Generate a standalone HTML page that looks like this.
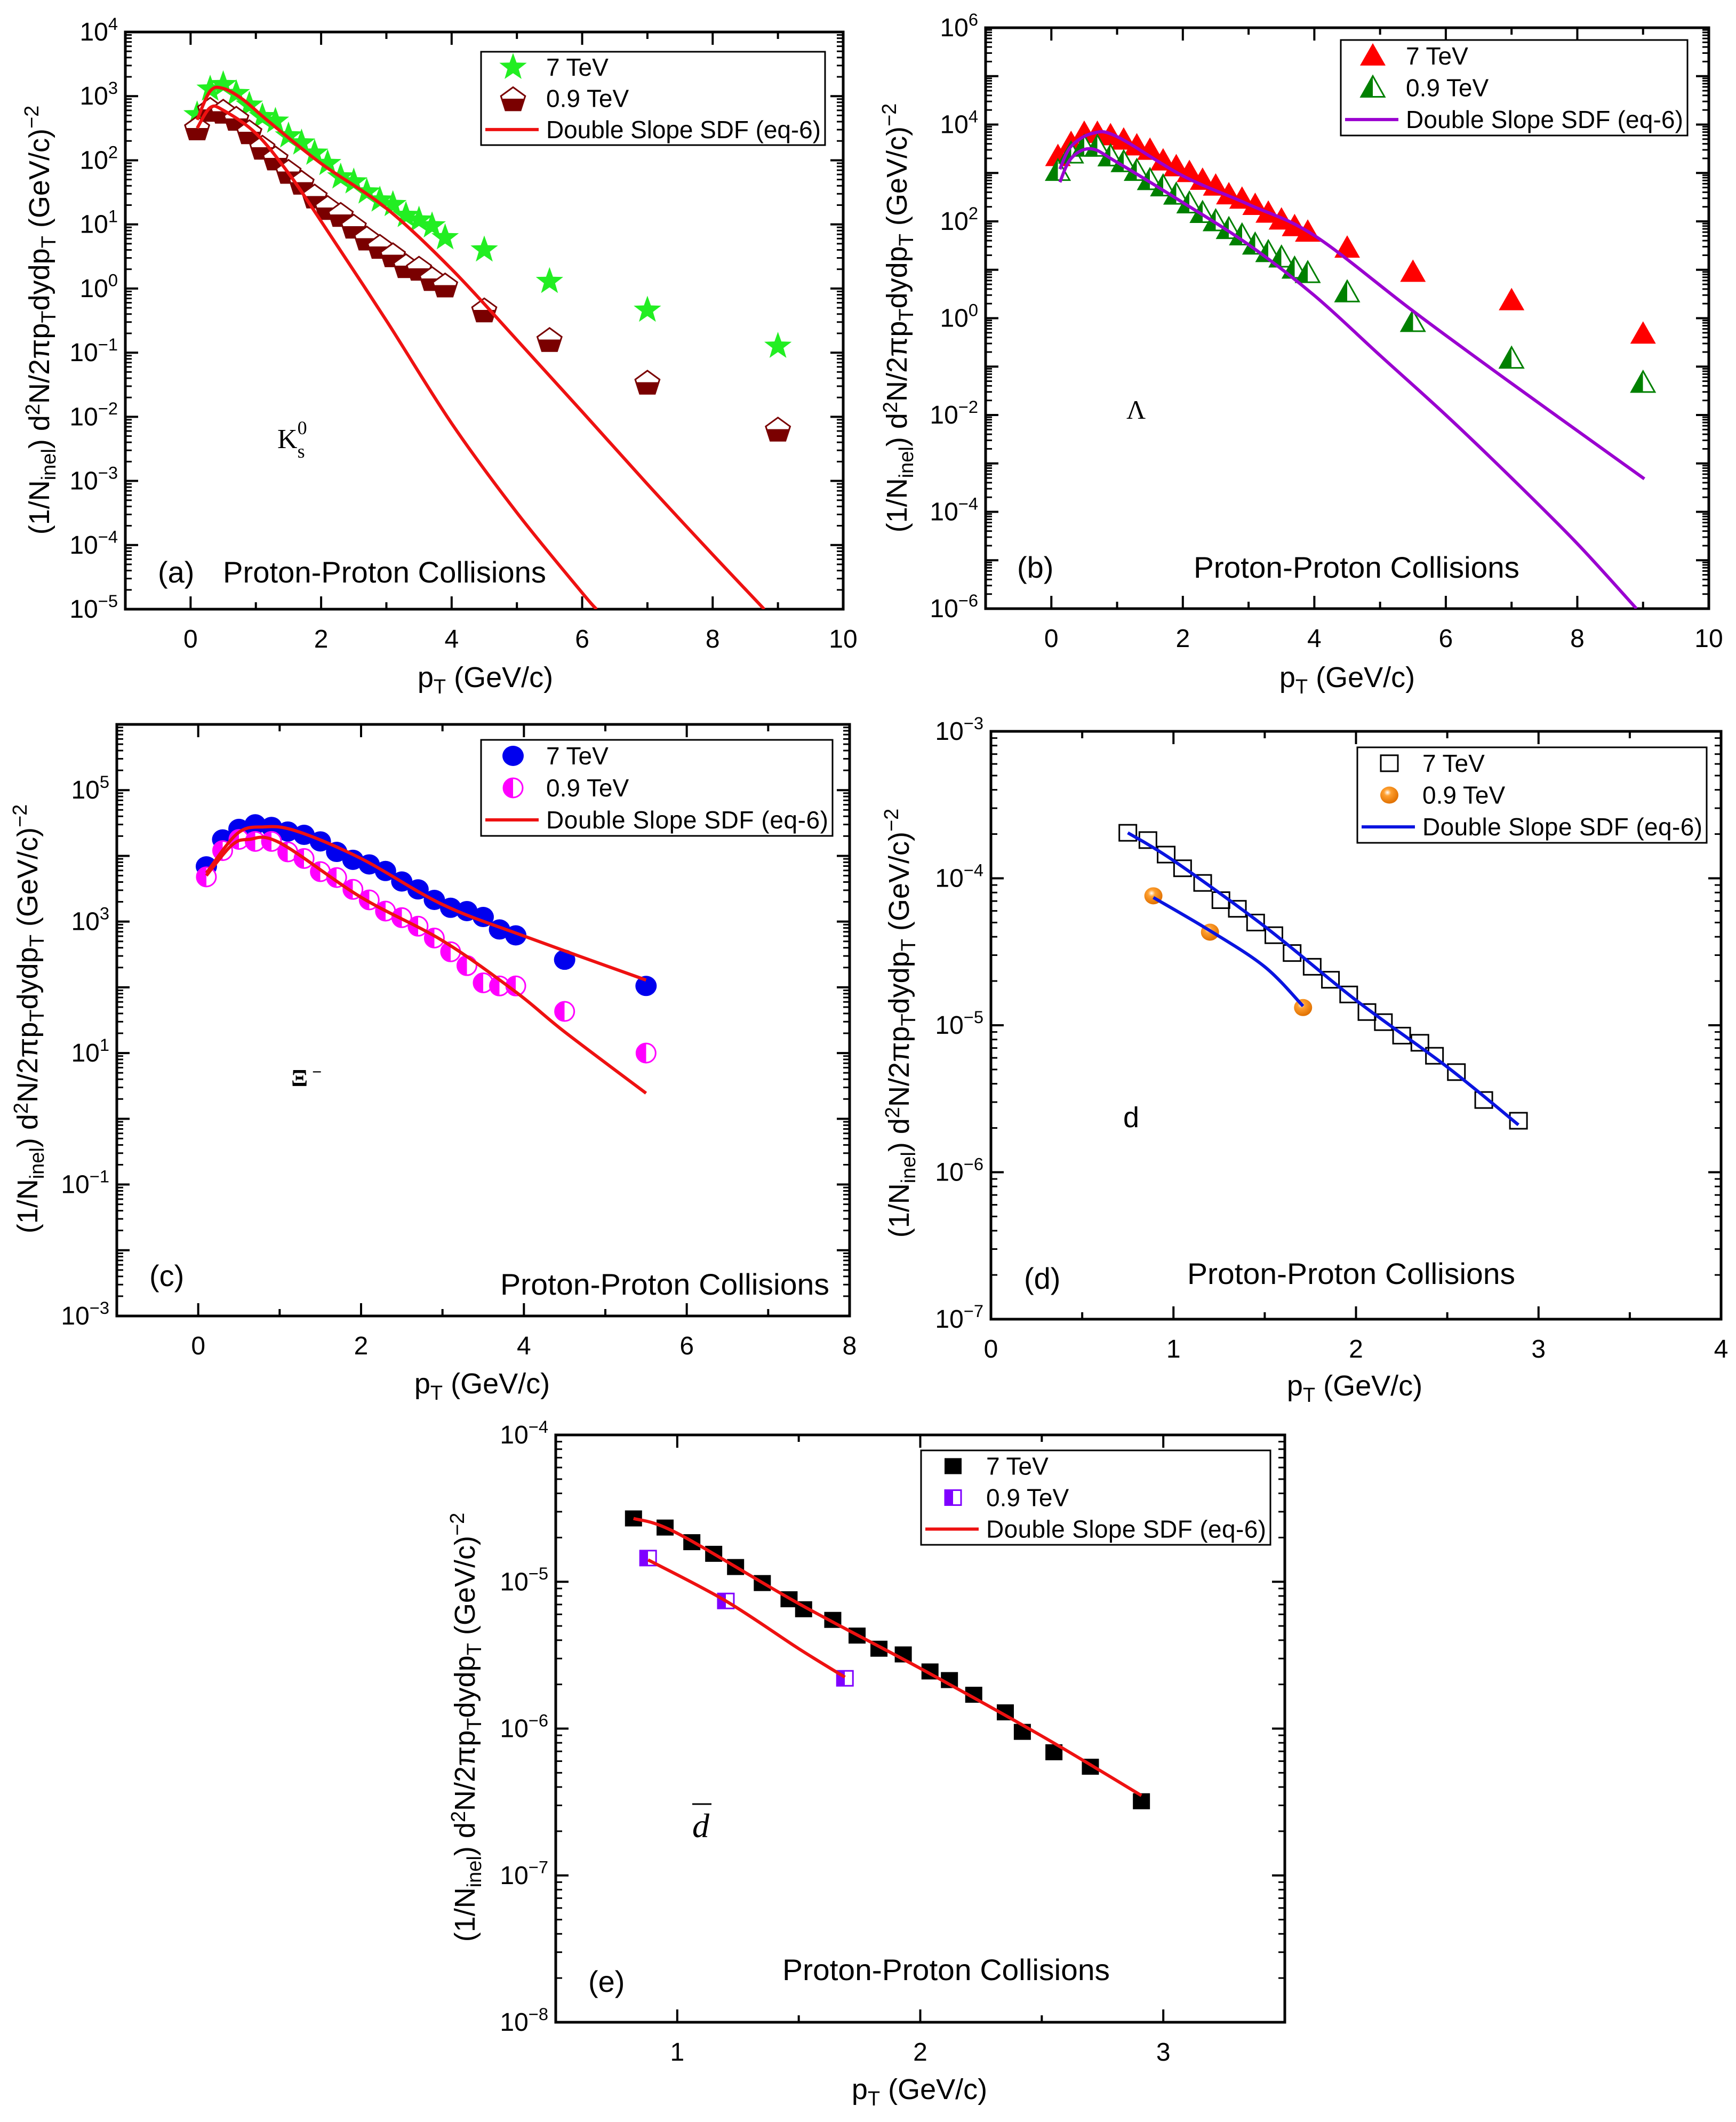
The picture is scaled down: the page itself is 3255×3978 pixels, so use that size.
<!DOCTYPE html>
<html><head><meta charset="utf-8"><title>pT spectra panels</title>
<style>
html,body{margin:0;padding:0;background:#fff;}
svg text{font-family:"Liberation Sans",sans-serif;fill:#000;}
</style></head>
<body>
<svg id="chart" xmlns="http://www.w3.org/2000/svg" width="3255" height="3973" viewBox="0 0 3255 3973">
<defs>
<linearGradient id="gPent" x1="0" y1="0" x2="0" y2="1"><stop offset="0.5" stop-color="#fff"/><stop offset="0.5" stop-color="#7a0000"/></linearGradient>
<linearGradient id="gTri" x1="0" y1="0" x2="1" y2="0"><stop offset="0.5" stop-color="#008000"/><stop offset="0.5" stop-color="#fff"/></linearGradient>
<linearGradient id="gCirc" x1="0" y1="0" x2="1" y2="0"><stop offset="0.5" stop-color="#ff00ff"/><stop offset="0.5" stop-color="#fff"/></linearGradient>
<linearGradient id="gSq" x1="0" y1="0" x2="1" y2="0"><stop offset="0.5" stop-color="#7f00ff"/><stop offset="0.5" stop-color="#fff"/></linearGradient>
<radialGradient id="gOrb" cx="0.4" cy="0.35" r="0.65"><stop offset="0" stop-color="#fff"/><stop offset="0.3" stop-color="#ffa030"/><stop offset="1" stop-color="#e07000"/></radialGradient>
</defs>
<rect x="0" y="0" width="3255" height="3973" fill="#fff"/>
</svg>
<script>
// ---------- Panel (a) K0s ----------
const aX7 = [0.1,0.3,0.5,0.7,0.9,1.1,1.3,1.5,1.7,1.9,2.1,2.3,2.5,2.7,2.9,3.1,3.3,3.5,3.7,3.9,4.5,5.5,7,9];
const aY7 = [513,1288,1514,1096,724,479,407,240,186,129,89,55,46,32,24,20.4,13.8,11.7,9.5,6.2,4.0,1.29,0.46,0.126];
const aX09 = aX7;
const aY09 = [324,631,589,457,282,162,110,68,46,28,18.6,14.5,9.5,6.2,4.6,3.4,2.3,2.1,1.45,1.15,0.47,0.162,0.035,0.0065];
const aFitX7 = [0.1,0.3,0.5,0.8,1.2,2,3,4,5,6,7,8,8.79];
const aFitY7 = [427,1200,1318,890,400,89,17.8,2.0,0.158,0.012,8.9e-4,7.1e-5,1e-5];
const aFitX09 = [0.1,0.3,0.5,1,1.5,2,3,4,5,6,6.22];
const aFitY09 = [316,661,603,263,63,11.2,0.316,0.0079,3.2e-4,1.8e-5,1e-5];
// ---------- Panel (b) Lambda ----------
const bX7 = [0.1,0.3,0.5,0.7,0.9,1.1,1.3,1.5,1.7,1.9,2.1,2.3,2.5,2.7,2.9,3.1,3.3,3.5,3.7,3.9,4.5,5.5,7,9];
const bY7 = [2188,4074,6607,6607,5888,4786,3631,2951,1778,1349,1023,708,537,355,288,214,148,107,78,60,28,8.9,2.3,0.47];
const bX09 = bX7;
const bY09 = [1096,2512,3467,3467,2188,1660,1096,708,525,355,234,148,100,69,51,33,23,17.8,10.5,8.5,3.4,0.83,0.145,0.046];
const bFitX7 = [0.13,0.3,0.63,1,2,3,4,5.5,7,9.02];
const bFitY7 = [1200,3548,6607,5623,871,224,51,1.41,0.045,4.8e-4];
const bFitX09 = [0.13,0.3,0.6,1,2,3,4,5,6,7,8,8.9];
const bFitY09 = [646,1995,3162,1660,245,33,2.95,0.17,0.01,5e-4,2.2e-5,1e-6];
// ---------- Panel (c) Xi- ----------
const cX7 = [0.1,0.3,0.5,0.7,0.9,1.1,1.3,1.5,1.7,1.9,2.1,2.3,2.5,2.7,2.9,3.1,3.3,3.5,3.7,3.9,4.5,5.5];
const cY7 = [6918,17783,25704,30200,27542,23442,20893,16596,11482,8710,7413,5888,4074,3090,2138,1622,1445,1175,759,617,263,105];
const cX09 = cX7;
const cY09 = [4786,12023,17783,16596,16596,11482,9120,5754,4677,3090,2138,1445,1148,851,562,347,214,117,105,105,43,10];
const cFitX7 = [0.1,0.48,0.8,1.2,2,3,4,5.5];
const cFitY7 = [5495,21878,27542,24000,9120,1820,603,129];
const cFitX09 = [0.1,0.41,0.62,1,2,3,3.9,4.5,5.5];
const cFitY09 = [5012,14454,17783,15849,2344,513,85,21,2.45];
// ---------- Panel (d) deuteron ----------
const dX7 = [0.75,0.86,0.96,1.05,1.16,1.26,1.35,1.45,1.55,1.65,1.76,1.86,1.96,2.06,2.15,2.25,2.35,2.43,2.55,2.70,2.89];
const dY7 = [2.04e-4,1.82e-4,1.45e-4,1.17e-4,9.3e-5,7.1e-5,6.2e-5,5.0e-5,4.1e-5,3.1e-5,2.5e-5,2.04e-5,1.62e-5,1.23e-5,1.05e-5,8.5e-6,7.6e-6,6.2e-6,4.8e-6,3.1e-6,2.24e-6];
const dX09 = [0.89,1.20,1.71];
const dY09 = [7.6e-5,4.3e-5,1.32e-5];
const dFitX7 = [0.75,1.0,1.5,2.0,2.5,2.89];
const dFitY7 = [2.04e-4,1.32e-4,4.7e-5,1.48e-5,5.2e-6,2.1e-6];
const dFitX09 = [0.89,1.2,1.5,1.71];
const dFitY09 = [7.4e-5,4.4e-5,2.5e-5,1.35e-5];
// ---------- Panel (e) anti-deuteron ----------
const eX7 = [0.82,0.95,1.06,1.15,1.24,1.35,1.46,1.52,1.64,1.74,1.83,1.93,2.04,2.12,2.22,2.35,2.42,2.55,2.70,2.91];
const eY7 = [2.7e-5,2.34e-5,1.86e-5,1.55e-5,1.26e-5,9.8e-6,7.6e-6,6.5e-6,5.5e-6,4.3e-6,3.5e-6,3.2e-6,2.45e-6,2.14e-6,1.7e-6,1.29e-6,9.5e-7,6.9e-7,5.5e-7,3.2e-7];
const eX09 = [0.88,1.20,1.69];
const eY09 = [1.45e-5,7.4e-6,2.2e-6];
const eFitX7 = [0.82,1.0,1.5,2.0,2.5,2.91];
const eFitY7 = [2.7e-5,2.14e-5,7.1e-6,2.57e-6,8.9e-7,3.5e-7];
const eFitX09 = [0.88,1.2,1.5,1.69];
const eFitY09 = [1.41e-5,7.4e-6,3.5e-6,2.24e-6];

// tick label arrays
const xTicksA = [0,2,4,6,8,10];
const yExpA = [-5,-4,-3,-2,-1,0,1,2,3,4];
const xTicksB = [0,2,4,6,8,10];
const yExpB = [-6,-4,-2,0,2,4,6];
const xTicksC = [0,2,4,6,8];
const yExpC = [-3,-1,1,3,5];
const xTicksD = [0,1,2,3,4];
const yExpD = [-7,-6,-5,-4,-3];
const xTicksE = [1,2,3];
const yExpE = [-8,-7,-6,-5,-4];

const NS = 'http://www.w3.org/2000/svg';
const svg = document.getElementById('chart');
function mk(tag, attrs, parent){
  const e = document.createElementNS(NS, tag);
  for (const k in attrs) e.setAttribute(k, attrs[k]);
  (parent||svg).appendChild(e);
  return e;
}
function makeAxes(p){
  p.X = v => p.x0 + (v - p.xmin)/(p.xmax - p.xmin)*(p.x1 - p.x0);
  p.Y = v => p.y1 - (Math.log10(v) - p.ymin)/(p.ymax - p.ymin)*(p.y1 - p.y0);
}
function supText(parent, x, y, anchor, size, base, exp){
  const t = mk('text', {x:x, y:y, 'text-anchor':anchor, 'font-size':size}, parent);
  t.appendChild(document.createTextNode(base));
  const s = mk('tspan', {dy:-size*0.42, 'font-size':size*0.68}, t);
  s.textContent = exp;
  return t;
}
function drawFrame(p, g){
  const fr = mk('rect', {x:p.x0, y:p.y0, width:p.x1-p.x0, height:p.y1-p.y0, fill:'none', stroke:'#000', 'stroke-width':5}, g);
  
  
  for (let v = p.xmin; v <= p.xmax + 1e-9; v += p.xMinor){
    const vv = Math.round(v*1000)/1000;
    const isMaj = Math.abs(vv/p.xMajor - Math.round(vv/p.xMajor)) < 1e-6;
    const L = isMaj ? 24 : 13;
    const x = p.X(vv);
    mk('line', {x1:x, y1:p.y1, x2:x, y2:p.y1-L, stroke:'#000', 'stroke-width':4}, g);
    mk('line', {x1:x, y1:p.y0, x2:x, y2:p.y0+L, stroke:'#000', 'stroke-width':4}, g);
  }
  p.xTicks.forEach(v => {
    const t = mk('text', {x:p.X(v), y:p.y1+72, 'text-anchor':'middle', 'font-size':48}, g);
    
    
    t.textContent = String(v);
  });
  for (let d = p.ymin; d <= p.ymax; d++){
    const y = p.Y(Math.pow(10,d));
    mk('line', {x1:p.x0, y1:y, x2:p.x0+24, y2:y, stroke:'#000', 'stroke-width':4}, g);
    mk('line', {x1:p.x1, y1:y, x2:p.x1-24, y2:y, stroke:'#000', 'stroke-width':4}, g);
    if (d < p.ymax){
      for (let k = 2; k <= 9; k++){
        const ym = p.Y(k*Math.pow(10,d));
        mk('line', {x1:p.x0, y1:ym, x2:p.x0+12, y2:ym, stroke:'#000', 'stroke-width':3}, g);
        mk('line', {x1:p.x1, y1:ym, x2:p.x1-12, y2:ym, stroke:'#000', 'stroke-width':3}, g);
      }
    }
  }
  p.yExp.forEach(d => {
    const t = supText(g, p.x0-14, p.Y(Math.pow(10,d))+16, 'end', 48, '10', String(d).replace('-', '\u2212'));
    
    
  });
  const xt = mk('text', {x:p.xtx, y:p.xty, 'text-anchor':'middle', 'font-size':54}, g);
  
  
  xt.appendChild(document.createTextNode('p'));
  const xs = mk('tspan', {dy:12, 'font-size':38}, xt); xs.textContent = 'T';
  const xr = mk('tspan', {dy:-12}, xt); xr.textContent = ' (GeV/c)';
  const yt = mk('text', {x:0, y:0, 'text-anchor':'middle', 'font-size':54, transform:'translate('+p.ytx+','+p.yty+') rotate(-90)'}, g);
  
  
  const parts = [['(1/N',0,54],['inel',12,38],[') d',-12,54],['2',-18,38],['N/2\u03C0p',18,54],['T',12,38],['dydp',-12,54],['T',12,38],[' (GeV/c)',-12,54],['\u22122',-20,38]];
  parts.forEach(pt => { const s = mk('tspan', {dy:pt[1], 'font-size':pt[2]}, yt); s.textContent = pt[0]; });
}
function catmull(pts){
  let d = 'M'+pts[0][0]+','+pts[0][1];
  for (let i = 0; i < pts.length-1; i++){
    const p0 = pts[Math.max(i-1,0)], p1 = pts[i], p2 = pts[i+1], p3 = pts[Math.min(i+2,pts.length-1)];
    const c1 = [p1[0]+(p2[0]-p0[0])/6, p1[1]+(p2[1]-p0[1])/6];
    const c2 = [p2[0]-(p3[0]-p1[0])/6, p2[1]-(p3[1]-p1[1])/6];
    d += ' C'+c1[0]+','+c1[1]+' '+c2[0]+','+c2[1]+' '+p2[0]+','+p2[1];
  }
  return d;
}
function drawFit(p, g, xs, ys, color, name){
  const pts = xs.map((x,i) => [p.X(x), p.Y(ys[i])]);
  const path = mk('path', {d:catmull(pts), fill:'none', stroke:color, 'stroke-width':6, 'stroke-linejoin':'round'}, g);
  
  
}
function marker(g, type, cx, cy){
  let e;
  if (type === 'star'){
    const pts = [];
    for (let i = 0; i < 10; i++){ const r = i%2 ? 11 : 27; const a = -Math.PI/2 + i*Math.PI/5; pts.push((cx+r*Math.cos(a)).toFixed(1)+','+(cy+r*Math.sin(a)).toFixed(1)); }
    e = mk('polygon', {points:pts.join(' '), fill:'#22ee22'}, g);
  } else if (type === 'pent'){
    const pts = [];
    for (let i = 0; i < 5; i++){ const a = -Math.PI/2 + i*2*Math.PI/5; pts.push((cx+24*Math.cos(a)).toFixed(1)+','+(cy+3+24*Math.sin(a)).toFixed(1)); }
    e = mk('polygon', {points:pts.join(' '), fill:'url(#gPent)', stroke:'#7a0000', 'stroke-width':3}, g);
  } else if (type === 'triR'){
    e = mk('polygon', {points:(cx)+','+(cy-24)+' '+(cx+24)+','+(cy+18)+' '+(cx-24)+','+(cy+18), fill:'#ff0000'}, g);
  } else if (type === 'triG'){
    e = mk('polygon', {points:(cx)+','+(cy-22)+' '+(cx+22)+','+(cy+17)+' '+(cx-22)+','+(cy+17), fill:'url(#gTri)', stroke:'#008000', 'stroke-width':3}, g);
  } else if (type === 'circB'){
    e = mk('ellipse', {cx:cx, cy:cy, rx:20, ry:19, fill:'#0000ee'}, g);
  } else if (type === 'circM'){
    e = mk('ellipse', {cx:cx, cy:cy, rx:18, ry:18, fill:'url(#gCirc)', stroke:'#ff00ff', 'stroke-width':3}, g);
  } else if (type === 'sqOpen'){
    e = mk('rect', {x:cx-16, y:cy-15, width:32, height:30, fill:'none', stroke:'#000', 'stroke-width':3}, g);
  } else if (type === 'orb'){
    e = mk('ellipse', {cx:cx, cy:cy, rx:17, ry:16, fill:'url(#gOrb)'}, g);
  } else if (type === 'sqBlk'){
    e = mk('rect', {x:cx-16, y:cy-15, width:32, height:30, fill:'#000'}, g);
  } else if (type === 'sqP'){
    e = mk('rect', {x:cx-15, y:cy-14, width:30, height:28, fill:'url(#gSq)', stroke:'#7f00ff', 'stroke-width':3}, g);
  }
  return e;
}
function drawPoints(p, g, xs, ys, type, name){
  xs.forEach((x,i) => {
    const m = marker(g, type, p.X(x), p.Y(ys[i]));
    
    
  });
}
function drawLegend(g, L, t7, t09, lineColor){
  const box = mk('rect', {x:L.x, y:L.y, width:L.w, height:L.h, fill:'#fff', stroke:'#000', 'stroke-width':3}, g);
  
  
  const rows = [L.y+L.h/6, L.y+L.h/2, L.y+5*L.h/6];
  const m1 = marker(g, t7, L.x+60, rows[0]);
  
  
  const m2 = marker(g, t09, L.x+60, rows[1]);
  
  
  const ln = mk('line', {x1:L.x+8, y1:rows[2], x2:L.x+108, y2:rows[2], stroke:lineColor, 'stroke-width':6}, g);
  
  
  const labels = ['7 TeV','0.9 TeV','Double Slope SDF (eq-6)'];
  labels.forEach((s,i) => {
    const t = mk('text', {x:L.x+122, y:rows[i]+16, 'font-size':46}, g);
    
    
    t.textContent = s;
    if (i === 2) t.setAttribute('textLength', L.w-130);
  });
}
function annot(g, x, y, txt, size, name, len, fam){
  const t = mk('text', {x:x, y:y, 'font-size':size}, g);
  if (len) { t.setAttribute('textLength', len); t.setAttribute('lengthAdjust', 'spacingAndGlyphs'); }
  if (fam) t.setAttribute('style', 'font-family:' + fam);
  
  
  t.textContent = txt;
  return t;
}

const panels = [
 {id:'a', x0:235,x1:1581,y0:60,y1:1142, xmin:-1,xmax:10, ymin:-5,ymax:4, xMajor:2,xMinor:1, xTicks:xTicksA, yExp:yExpA, xtx:910,xty:1288, ytx:92,yty:600,
  series:[[aX7,aY7,'star','point-7tev'],[aX09,aY09,'pent','point-09tev']], fits:[[aFitX7,aFitY7],[aFitX09,aFitY09]], color:'#ee1111',
  leg:{x:902,y:97,w:645,h:175}, t7:'star', t09:'pent', lab:'(a)', labX:296, labY:1092, pp:[418,1092,606]},
 {id:'b', x0:1848,x1:3204,y0:52,y1:1141, xmin:-1,xmax:10, ymin:-6,ymax:6, xMajor:2,xMinor:1, xTicks:xTicksB, yExp:yExpB, xtx:2526,xty:1288, ytx:1700,yty:596,
  series:[[bX7,bY7,'triR','point-7tev'],[bX09,bY09,'triG','point-09tev']], fits:[[bFitX7,bFitY7],[bFitX09,bFitY09]], color:'#9a00d0',
  leg:{x:2514,y:75,w:650,h:179}, t7:'triR', t09:'triG', lab:'(b)', labX:1907, labY:1083, pp:[2238,1083,611]},
 {id:'c', x0:219,x1:1593,y0:1358,y1:2467, xmin:-1,xmax:8, ymin:-3,ymax:6, xMajor:2,xMinor:1, xTicks:xTicksC, yExp:yExpC, xtx:904,xty:2612, ytx:70,yty:1910,
  series:[[cX7,cY7,'circB','point-7tev'],[cX09,cY09,'circM','point-09tev']], fits:[[cFitX7,cFitY7],[cFitX09,cFitY09]], color:'#ee1111',
  leg:{x:902,y:1387,w:659,h:180}, t7:'circB', t09:'circM', lab:'(c)', labX:280, labY:2411, pp:[938,2427,617]},
 {id:'d', x0:1858,x1:3227,y0:1371,y1:2473, xmin:0,xmax:4, ymin:-7,ymax:-3, xMajor:1,xMinor:0.5, xTicks:xTicksD, yExp:yExpD, xtx:2540,xty:2616, ytx:1704,yty:1918,
  series:[[dX7,dY7,'sqOpen','point-7tev'],[dX09,dY09,'orb','point-09tev']], fits:[[dFitX7,dFitY7],[dFitX09,dFitY09]], color:'#0a14e0',
  leg:{x:2545,y:1401,w:655,h:179}, t7:'sqOpen', t09:'orb', lab:'(d)', labX:1920, labY:2416, pp:[2226,2407,615]},
 {id:'e', x0:1042,x1:2409,y0:2690,y1:3791, xmin:0.5,xmax:3.5, ymin:-8,ymax:-4, xMajor:1,xMinor:0.5, xTicks:xTicksE, yExp:yExpE, xtx:1724,xty:3935, ytx:890,yty:3238,
  series:[[eX7,eY7,'sqBlk','point-7tev'],[eX09,eY09,'sqP','point-09tev']], fits:[[eFitX7,eFitY7],[eFitX09,eFitY09]], color:'#ee1111',
  leg:{x:1727,y:2719,w:655,h:177}, t7:'sqBlk', t09:'sqP', lab:'(e)', labX:1103, labY:3734, pp:[1467,3712,614]}
];

panels.forEach(p => {
  makeAxes(p);
  const g = mk('g', {});
  
  
  drawFrame(p, g);
  const clipId = 'clip' + p.id;
  const cp = mk('clipPath', {id:clipId}, g);
  mk('rect', {x:p.x0, y:p.y0, width:p.x1-p.x0, height:p.y1-p.y0}, cp);
  const dg = mk('g', {'clip-path':'url(#'+clipId+')'}, g);
  p.series.forEach(s => drawPoints(p, dg, s[0], s[1], s[2], s[3]));
  drawFit(p, dg, p.fits[0][0], p.fits[0][1], p.color, 'fit-curve-7tev');
  drawFit(p, dg, p.fits[1][0], p.fits[1][1], p.color, 'fit-curve-09tev');
  drawLegend(g, p.leg, p.t7, p.t09, p.color);
  annot(g, p.labX, p.labY, p.lab, 56, 'panel-label');
  annot(g, p.pp[0], p.pp[1], 'Proton-Proton Collisions', 56, 'collision-label', p.pp[2]);
  p.g = g;
});

const gA = panels[0].g;
const k = annot(gA, 520, 840, 'K', 52, 'particle-label-k0s', null, '"Liberation Serif",serif');
const k0 = mk('tspan', {dy:-26, 'font-size':36}, k); k0.textContent = '0';
const ks = mk('tspan', {dx:-18, dy:44, 'font-size':36}, k); ks.textContent = 's';
annot(panels[1].g, 2112, 785, '\u039B', 50, 'particle-label-lambda', null, '"Liberation Serif",serif');
const xi = annot(panels[2].g, 546, 2036, '\u039E', 46, 'particle-label-xi', null, '"Liberation Serif",serif');
xi.setAttribute('font-weight', 'bold');
const xim = mk('tspan', {dy:-16, 'font-size':32}, xi); xim.textContent = ' \u2212';
annot(panels[3].g, 2106, 2113, 'd', 54, 'particle-label-deuteron');
annot(panels[4].g, 1298, 3444, 'd', 64, 'particle-label-antideuteron', null, '"Liberation Serif",serif').setAttribute('font-style', 'italic');
const ov = mk('line', {x1:1298, y1:3382, x2:1334, y2:3382, stroke:'#000', 'stroke-width':3}, panels[4].g);


</script>
</body></html>
